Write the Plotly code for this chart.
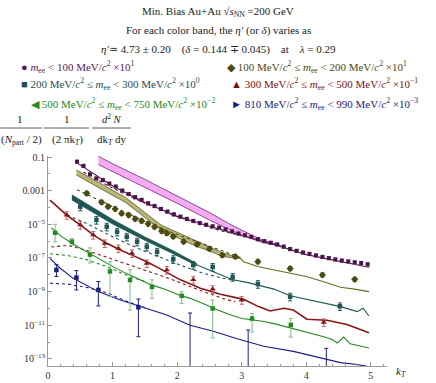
import numpy as np
import plotly.graph_objects as go

# ---- data (y values stored as log10) ----
# m_ee < 100 MeV (purple)
pur_x = [0.45, 0.55, 0.65, 0.75, 0.85, 0.95, 1.05, 1.15, 1.25, 1.35, 1.45, 1.55, 1.65, 1.75, 1.85,
         1.95, 2.05, 2.15, 2.25, 2.35, 2.45, 2.55, 2.65, 2.75, 2.85, 2.95, 3.05, 3.15, 3.25, 3.35,
         3.45, 3.55, 3.65, 3.75, 3.85, 3.95, 4.05, 4.15, 4.25, 4.35, 4.45, 4.55, 4.65, 4.75, 4.85, 4.95]
pur_y = [-1.28, -1.53, -2.03, -2.27, -2.37, -2.58, -2.76, -3.0, -3.2, -3.39, -3.55, -3.75, -3.91, -4.09, -4.25,
         -4.41, -4.55, -4.68, -4.80, -4.92, -5.03, -5.12, -5.2, -5.3, -5.42, -5.55, -5.65, -5.75, -5.88, -6.0,
         -6.1, -6.2, -6.33, -6.47, -6.58, -6.68, -6.76, -6.85, -6.94, -7.01, -7.09, -7.16, -7.21, -7.26, -7.3, -7.38]
pur_line_x = [0.45, 1.0, 1.5, 2.0, 2.5, 3.0, 3.5, 4.0, 4.5, 4.97]
pur_line_y = [-1.35, -2.72, -3.7, -4.52, -5.12, -5.65, -6.2, -6.8, -7.18, -7.55]
pur_dot_x = [0.55, 1.0, 1.5, 2.0, 2.5, 3.0]
pur_dot_y = [-1.9, -2.85, -3.75, -4.55, -5.2, -5.7]
pink_x = [0.78, 1.0, 1.5, 2.0, 2.5, 2.8, 3.0, 3.3, 3.6]
pink_hi = [-0.95, -1.4, -2.33, -3.3, -4.3, -4.95, -5.35, -5.9, -6.25]
pink_lo = [-1.45, -1.85, -2.8, -3.75, -4.75, -5.3, -5.65, -6.05, -6.3]

# 100-200 MeV (olive)
oli_x = [0.6, 0.83, 0.93, 1.04, 1.14, 1.25, 1.35, 1.45, 1.55, 1.65, 1.76, 1.84, 1.94,
         2.1, 2.31, 2.5, 2.7, 2.9, 3.25, 3.75, 4.25, 4.75]
oli_y = [-3.16, -3.69, -3.95, -4.09, -4.35, -4.45, -4.68, -4.8, -4.97, -5.15, -5.4, -5.53, -5.73,
         -6.03, -6.19, -6.45, -6.84, -6.92, -7.22, -7.63, -8.01, -8.27]
oli_band_x = [0.44, 0.8, 1.2, 1.75, 2.25, 2.72, 2.98]
oli_band_hi = [-1.77, -2.55, -3.4, -5.04, -5.93, -6.72, -7.0]
oli_band_lo = [-2.07, -2.85, -3.7, -5.34, -6.23, -6.92, -7.05]
oli_line_x = [2.98, 3.03, 3.26, 3.5, 3.75, 4.0, 4.27, 4.53, 4.75, 4.97]
oli_line_y = [-7.02, -7.22, -7.52, -7.7, -7.91, -8.1, -8.41, -8.74, -8.85, -9.0]
oli_dot_x = [0.45, 0.8, 1.2, 1.6, 2.0, 2.5, 3.0]
oli_dot_y = [-2.95, -3.6, -4.3, -5.0, -5.6, -6.3, -7.0]

# 200-300 MeV (teal)
tea_x = [0.5, 0.75, 0.91, 1.07, 1.22, 1.38, 1.53, 1.69, 1.94, 2.25, 2.55, 2.86, 3.25, 3.75, 4.52]
tea_y = [-3.95, -4.74, -5.14, -5.44, -5.74, -6.03, -6.33, -6.63, -7.07, -7.42, -7.53, -8.13, -8.55, -9.3, -9.87]
tea_band_x = [0.37, 0.7, 1.0, 1.5, 1.9, 2.3]
tea_band_hi = [-3.25, -4.0, -4.72, -5.75, -6.5, -7.32]
tea_band_lo = [-3.55, -4.3, -4.98, -5.95, -6.68, -7.45]
tea_line_x = [2.3, 2.56, 2.85, 3.08, 3.26, 3.5, 3.75, 4.0, 4.27, 4.53, 4.79, 4.88, 4.97]
tea_line_y = [-7.4, -7.82, -8.28, -8.45, -8.61, -8.85, -9.25, -9.45, -9.69, -9.89, -10.19, -9.99, -10.45]
tea_dot_x = [0.3, 0.6, 0.9, 1.2, 1.5, 1.8, 2.1, 2.4, 2.7, 2.9]
tea_dot_y = [-4.45, -4.95, -5.55, -6.1, -6.6, -7.05, -7.5, -7.9, -8.2, -8.35]

# 300-500 MeV (dark red)
red_x = [0.29, 0.5, 0.7, 0.88, 1.09, 1.3, 1.53, 1.84, 2.25, 2.55, 3.0, 4.27]
red_y = [-4.45, -5.04, -5.63, -6.13, -6.43, -6.72, -7.32, -7.71, -8.29, -8.85, -9.5, -10.82]
red_line_x = [0.03, 0.29, 0.5, 0.7, 0.91, 1.12, 1.32, 1.53, 1.74, 2.05, 2.36, 2.67, 3.03, 3.26,
              3.44, 3.65, 3.8, 4.01, 4.32, 4.63, 4.97]
red_line_y = [-3.56, -4.45, -5.04, -5.63, -6.13, -6.53, -6.86, -7.22, -7.65, -8.3, -8.8, -9.16, -9.46, -9.89,
              -10.15, -9.99, -10.09, -10.64, -10.7, -10.95, -11.44]
red_dot_x = [0.05, 0.3, 0.6, 0.9, 1.2, 1.5, 1.9, 2.3, 2.7, 2.9]
red_dot_y = [-6.35, -6.25, -6.55, -6.95, -7.35, -7.75, -8.25, -8.85, -9.4, -9.6]

# 500-750 MeV (green)
gre_x = [0.11, 0.37, 0.65, 0.96, 1.27, 1.61, 2.07, 2.55, 3.16, 3.76]
gre_y = [-5.5, -6.03, -6.8, -7.8, -8.31, -8.72, -9.25, -10.0, -10.6, -10.98]
gre_hi = [-5.0, -5.85, -6.4, -7.22, -7.7, -8.3, -9.0, -9.5, -10.3, -10.6]
gre_lo = [-6.05, -6.25, -7.3, -9.3, -10.1, -9.4, -9.7, -11.75, -11.4, -11.7]
gre_line_x = [0.05, 0.2, 0.4, 0.6, 0.8, 1.0, 1.2, 1.4, 1.6, 1.8, 2.0, 2.2, 2.4, 2.6, 2.8, 3.0,
              3.3, 3.5, 3.75, 4.0, 4.27, 4.4, 4.48, 4.58, 4.68, 4.8, 4.97]
gre_line_y = [-5.2, -5.7, -6.2, -6.65, -7.1, -7.5, -7.9, -8.25, -8.6, -8.85, -9.15, -9.4, -9.7, -10.05,
              -10.35, -10.6, -10.75, -10.9, -11.15, -11.4, -11.68, -11.85, -12.05, -11.7, -12.1, -12.2, -12.35]
gre_dot_x = [0.03, 0.3, 0.6, 0.9, 1.2, 1.5]
gre_dot_y = [-6.75, -6.85, -7.1, -7.5, -8.0, -8.4]

# 810-990 MeV (blue)
blu_x = [0.13, 0.44, 0.78, 1.4, 2.2, 3.1, 4.31]
blu_y = [-7.71, -8.17, -8.9, -9.93, -13.9, -13.9, -13.9]
blu_hi = [-7.4, -7.75, -8.4, -9.44, -10.27, -11.28, -12.37]
blu_lo = [-8.1, -8.9, -9.85, -11.68, -13.9, -13.9, -13.9]
blu_line_x = [0.03, 0.19, 0.39, 0.65, 0.78, 1.12, 1.43, 1.84, 2.2, 2.56, 2.93, 3.34, 3.8, 4.17, 4.53, 4.79, 4.97]
blu_line_y = [-7.02, -7.61, -8.21, -8.71, -9.0, -9.5, -9.89, -10.39, -11.0, -11.35, -11.8, -12.25, -12.55,
              -12.9, -13.22, -13.33, -13.46]
blu_dot_x = [0.03, 0.3, 0.6, 0.9, 1.2, 1.5]
blu_dot_y = [-8.5, -8.55, -8.75, -9.05, -9.55, -9.95]

ytick_vals = [-1, -3, -5, -7, -9, -11, -13]
ytick_text = ["0.1", "0.001", "10<sup>\u22125</sup>", "10<sup>\u22127</sup>", "10<sup>\u22129</sup>",
              "10<sup>\u221211</sup>", "10<sup>\u221213</sup>"]
yminor_vals = [-2, -4, -6, -8, -10, -12]

PUR, OLI, TEA, RED, GRE, BLU = "#4a1448", "#4b4a12", "#1f5656", "#8a1515", "#238a23", "#1c1c86"
SERIF = "Liberation Serif"


def p(v):
    return [10 ** t for t in v]


def line(x, y, color, dash="solid", width=1.1):
    return go.Scatter(x=x, y=p(y), mode="lines", line=dict(color=color, width=width, dash=dash),
                      hoverinfo="skip", showlegend=False)


def band(x, hi, lo, fill, edge):
    return go.Scatter(x=list(x) + list(x[::-1]), y=p(hi) + p(lo[::-1]), mode="lines", fill="toself",
                      fillcolor=fill, line=dict(color=edge, width=0.8), hoverinfo="skip", showlegend=False)


def pts(x, y, hi, lo, color, symbol, size, ecolor=None):
    yy = p(y)
    return go.Scatter(x=x, y=yy, mode="markers",
                      marker=dict(color=color, symbol=symbol, size=size),
                      error_y=dict(type="data", symmetric=False,
                                   array=[10 ** h - v for h, v in zip(hi, yy)],
                                   arrayminus=[v - 10 ** l for l, v in zip(lo, yy)],
                                   color=ecolor or color, thickness=1, width=2),
                      showlegend=False)


fig = go.Figure()
# bands
fig.add_trace(band(pink_x, pink_hi, pink_lo, "#f4aaf4", "#6a2a6a"))
fig.add_trace(band(oli_band_x, oli_band_hi, oli_band_lo, "#b9b47a", "#5e5c20"))
fig.add_trace(band(tea_band_x, tea_band_hi, tea_band_lo, "#1f5656", "#1f5656"))
# dotted model curves
for x, y, c in [(pur_dot_x, pur_dot_y, PUR), (oli_dot_x, oli_dot_y, OLI), (tea_dot_x, tea_dot_y, TEA),
                (red_dot_x, red_dot_y, RED), (gre_dot_x, gre_dot_y, GRE), (blu_dot_x, blu_dot_y, BLU)]:
    fig.add_trace(line(x, y, c, dash="dot", width=1.1))
# solid curves
fig.add_trace(line(pur_line_x, pur_line_y, PUR))
fig.add_trace(line(oli_line_x, oli_line_y, "#6e6c22"))
fig.add_trace(line(tea_line_x, tea_line_y, TEA))
fig.add_trace(line(red_line_x, red_line_y, RED, width=1.6))
fig.add_trace(line(gre_line_x, gre_line_y, GRE))
fig.add_trace(line(blu_line_x, blu_line_y, BLU))
# data points
fig.add_trace(pts(pur_x, pur_y, [v + 0.1 for v in pur_y], [v - 0.1 for v in pur_y], PUR, "square", 4, "#b58ab5"))
fig.add_trace(pts(oli_x, oli_y, [v + 0.12 for v in oli_y], [v - 0.12 for v in oli_y], OLI, "diamond", 5.5))
fig.add_trace(pts(tea_x, tea_y, [v + 0.2 for v in tea_y], [v - 0.25 for v in tea_y], TEA, "square", 4.5))
fig.add_trace(pts(red_x, red_y, [v + 0.2 for v in red_y], [v - 0.25 for v in red_y], RED, "triangle-up", 5.5,
                  "#b86a6a"))
fig.add_trace(pts(gre_x, gre_y, gre_hi, gre_lo, GRE, "square", 4.5, "#7cc07c"))
fig.add_trace(pts(blu_x, blu_y, blu_hi, blu_lo, BLU, "square", 4.5))

# ---- layout (pixel positions of the 436x383 picture) ----
W, H = 436, 383
L, R, T, B = 48, 387, 156, 366


def px(x):
    return (x - L) / (R - L)


def py(y):
    return (B - y) / (B - T)


def txt(x, y, s, color="#222", size=11, anchor="center"):
    fig.add_annotation(x=px(x), y=py(y), xref="paper", yref="paper", text=s, showarrow=False,
                       xanchor=anchor, yanchor="middle", font=dict(family=SERIF, size=size, color=color))


txt(218, 12, "Min. Bias Au+Au \u221a<i>s</i><sub>NN</sub> =200 GeV")
txt(218, 31, "For each color band, the <i>\u03b7\u2032</i> (or <i>\u03b4</i>) varies as")
txt(218, 49, "<i>\u03b7\u2032</i>\u2243 4.73 \u00b1 0.20    (<i>\u03b4</i> = 0.144 \u2213 0.045)    at    <i>\u03bb</i> = 0.29")
mee = "<i>m</i><sub>ee</sub>"
unit = "MeV/<i>c</i><sup>2</sup>"
txt(19, 67, "\u25cf " + mee + " < 100 " + unit + " \u00d710<sup>1</sup>", "#5a1a5a", anchor="left")
txt(225, 67, "\u25c6 100 " + unit + " \u2264 " + mee + " < 200 " + unit + " \u00d710<sup>1</sup>", "#4b4a12",
    anchor="left")
txt(19, 84, "\u25a0 200 " + unit + " \u2264 " + mee + " < 300 " + unit + " \u00d710<sup>0</sup>", "#1f4f4f",
    anchor="left")
txt(229, 84, "\u25b2 300 " + unit + " \u2264 " + mee + " < 500 " + unit + " \u00d710<sup>\u22121</sup>",
    "#7a1212", anchor="left")
txt(29, 104, "\u25c0 500 " + unit + " \u2264 " + mee + " < 750 " + unit + " \u00d710<sup>\u22122</sup>",
    "#238a23", anchor="left")
txt(229, 104, "\u25ba 810 " + unit + " \u2264 " + mee + " < 990 " + unit + " \u00d710<sup>\u22123</sup>",
    "#1c1c7a", anchor="left")
# y-axis label as three stacked fractions
txt(20, 119, "1")
txt(21, 140, "(<i>N</i><sub>part</sub> / 2)")
txt(67, 119, "1")
txt(67, 140, "(2 \u03c0k<sub><i>T</i></sub>)")
txt(112, 118, "<i>d</i><sup>2</sup> <i>N</i>", size=10.5)
txt(112, 140, "dk<sub><i>T</i></sub> dy")
for x0, x1 in [(0, 42), (44, 89), (92, 131)]:
    fig.add_shape(type="line", xref="paper", yref="paper", x0=px(x0), x1=px(x1), y0=py(128), y1=py(128),
                  line=dict(color="#333", width=0.8))
txt(401, 372, "<i>k<sub>T</sub></i>")

fig.update_layout(
    width=W, height=H, margin=dict(l=L, r=W - R, t=T, b=H - B, autoexpand=False),
    paper_bgcolor="white", plot_bgcolor="white",
    font=dict(family=SERIF, size=10, color="#333"),
    xaxis=dict(range=[0, 5.25], automargin=False, showgrid=False, zeroline=False, showline=True,
               linecolor="#999", linewidth=1, ticks="inside", ticklen=4, tickcolor="#999",
               tickvals=[0, 1, 2, 3, 4, 5],
               minor=dict(ticks="inside", ticklen=2, tickcolor="#999", dtick=0.2), tickfont=dict(size=10)),
    yaxis=dict(type="log", range=[-13.42, -0.94], automargin=False, showgrid=False, zeroline=False,
               showline=True, linecolor="#999", linewidth=1, ticks="inside", ticklen=4, tickcolor="#999",
               tickvals=[10 ** v for v in ytick_vals], ticktext=ytick_text,
               minor=dict(ticks="inside", ticklen=2, tickcolor="#999", tickvals=[10 ** v for v in yminor_vals]),
               tickfont=dict(size=10)),
)

# drop the browser's default 8px body margin so the figure sits at the window corner
fig.write_html("out.html", config={"displayModeBar": False},
               post_script="document.body.style.margin = '0px';")
